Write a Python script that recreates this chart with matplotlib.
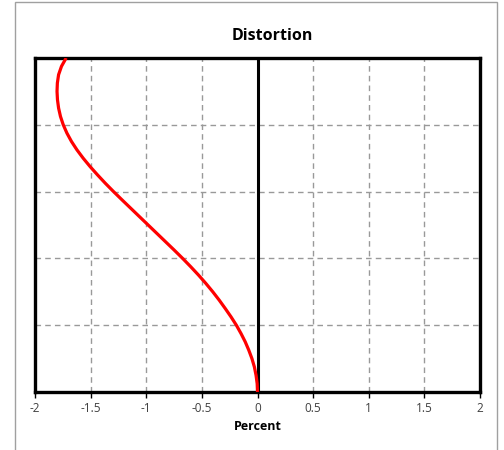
import matplotlib.pyplot as plt
from matplotlib.patches import Rectangle

# distortion (percent) against normalised field height
field = [0.0, 0.025, 0.05, 0.075, 0.1, 0.125, 0.15, 0.175, 0.2, 0.225, 0.25, 0.275,
         0.3, 0.325, 0.35, 0.375, 0.4, 0.425, 0.45, 0.475, 0.5, 0.525, 0.55, 0.575,
         0.6, 0.625, 0.65, 0.675, 0.7, 0.725, 0.75, 0.775, 0.8, 0.825, 0.85, 0.875,
         0.9, 0.925, 0.95, 0.975, 1.0]
distortion = [0.0, -0.003, -0.013, -0.028, -0.05, -0.078, -0.11, -0.148, -0.19, -0.238,
              -0.29, -0.344, -0.402, -0.464, -0.53, -0.60, -0.673, -0.749, -0.827, -0.905,
              -0.983, -1.061, -1.139, -1.217, -1.294, -1.368, -1.438, -1.505, -1.567,
              -1.623, -1.672, -1.713, -1.746, -1.771, -1.788, -1.798, -1.802, -1.799,
              -1.788, -1.762, -1.72]
xticks = [-2, -1.5, -1, -0.5, 0, 0.5, 1, 1.5, 2]
xticklabels = ["-2", "-1.5", "-1", "-0.5", "0", "0.5", "1", "1.5", "2"]
ygrid = [0.2, 0.4, 0.6, 0.8]

plt.rcParams['font.family'] = ['Open Sans', 'DejaVu Sans']

fig = plt.figure(figsize=(5.04, 4.5), dpi=100)
fig.patches.append(Rectangle((15 / 504, -0.1), 482 / 504, 1.095, transform=fig.transFigure,
                             fill=False, edgecolor='#a0a0a0', linewidth=1.0))

ax = fig.add_axes([35 / 504, 58 / 450, 445 / 504, 334 / 450])
ax.set_xlim(-2, 2)
ax.set_ylim(0, 1)

for x in xticks[1:-1]:
    if x != 0:
        ax.axvline(x, color='#999999', linestyle=(0, (4, 3)), linewidth=1.0, zorder=1)
for y in ygrid:
    ax.axhline(y, color='#999999', linestyle=(0, (4, 3)), linewidth=1.0, zorder=1)
ax.axvline(0, color='black', linewidth=2.2, zorder=2)

ax.plot(distortion, field, color='red', linewidth=2.3, zorder=3,
        solid_capstyle='butt', solid_joinstyle='round')

for s in ax.spines.values():
    s.set_linewidth(2.4)
    s.set_color('black')

ax.set_xticks(xticks)
ax.set_xticklabels(xticklabels, fontsize=8.5, color='#404040')
ax.tick_params(axis='x', direction='out', length=4, width=1, pad=3)
ax.set_yticks([])
ax.set_xlabel("Percent", fontsize=9, fontweight='bold', labelpad=4)

fig.text(272 / 504, 1 - 36 / 450, "Distortion", ha='center', va='center',
         fontsize=11.5, fontweight='bold')

fig.savefig("out.png", dpi=100)
